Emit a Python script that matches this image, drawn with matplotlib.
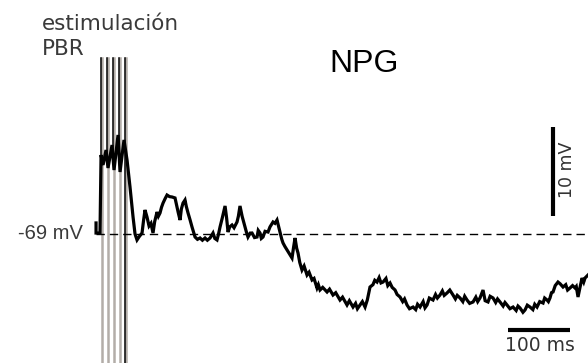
import matplotlib.pyplot as plt
import numpy as np

# membrane potential trace (ms, mV)
t_ms = [-1.6, -1.6, 4.8, 6.5, 9.7, 14.5, 17.7, 24.2, 27.4, 33.9, 37.1, 43.5, 48.4,
        53.2, 58.1,
        61.3, 64.5, 68, 72.6, 75, 77.4, 80.6, 83.9, 87, 90.3, 93, 96.8, 99, 101.6,
        104, 106.5, 110, 112.9, 117, 121.0, 125.8, 129.0, 131, 133.9, 136, 138.7,
        141.9, 144, 146.8, 150, 153.2, 158.1, 162, 166.1, 170, 174.2, 178, 182.3,
        187.1, 190, 193.5, 196, 198.4, 202, 206.5, 209, 211.3, 214, 217.7, 221,
        225.8, 228, 230.6, 234, 238.7, 241, 243.5, 247, 250.0, 254, 258.1, 260,
        262.9, 265, 267.7, 271, 275.8, 279, 283.9, 287, 290.3, 293, 295.2, 298,
        300.0, 303, 306.5, 310, 314.5, 317, 319.4, 322, 324.2, 327,
        330.6, 334, 338.7, 342, 346.8, 350, 354.8, 357, 359.7, 364, 371.0, 375,
        380.6, 385, 391.9, 396, 403.2, 407, 412.9, 417, 420, 424.2, 428, 432.3,
        436, 440.3, 445, 448, 451.6, 455, 458, 461.3, 466, 469, 472.6, 476, 480.6,
        484, 488.7, 493, 496, 500.0, 504, 509.7, 514, 517, 521.0, 526, 529, 532.3,
        536, 541.9, 546, 549, 553.2, 557, 560, 564.5, 569, 574.2, 578, 581, 585.5,
        590, 593, 596.8, 601, 606.5, 611, 614, 617.7, 622.6, 626, 630.6, 634,
        638.7, 643, 646, 650.0, 655, 658, 661.3, 666, 671.0, 676, 679, 682.3, 687,
        690.3, 694, 698.4, 703, 706, 709.7, 714, 719.4, 722, 725.8, 728, 730.6,
        733, 735.5, 739, 743.5, 747, 751.6, 756, 759, 762.9, 767, 771.0, 773,
        775.8, 779, 782.3, 785, 787.1, 791.9]
v_mV = [-67.76, -68.89, -68.89, -60.12, -61.24, -59.56, -61.58, -59.0, -61.81, -57.87,
        -62.03, -58.43, -60.68, -63.72, -67.09,
        -69.0, -69.67, -69.3, -68.89, -67.5, -66.30, -67.09, -68.10, -67.8, -68.89,
        -67.6, -66.53, -67.0, -66.64, -66.0, -65.52, -65.0, -64.62, -64.8, -64.84,
        -64.95, -65.97, -66.6, -67.43, -66.2, -65.52, -65.18, -65.9, -66.64, -67.4,
        -68.21, -69.34, -69.6, -69.45, -69.7, -69.45, -69.7, -69.45, -68.89, -69.5,
        -69.67, -69.0, -68.21, -67.2, -65.85, -67.2, -68.78, -68.2, -67.99, -68.3,
        -67.65, -67.0, -65.85, -67.0, -68.21, -68.8, -69.34, -68.9, -68.89, -69.4,
        -69.34, -68.6, -68.89, -69.5, -69.34, -68.7, -68.78, -68.2, -67.65, -67.8,
        -67.43, -68.2, -68.78, -69.6, -70.01, -70.4, -70.80, -71.2, -71.70, -70.5,
        -69.45, -70.6, -71.14, -72.2,
        -73.05, -72.6, -73.61, -73.3, -74.17, -74.0, -75.07, -74.7, -75.29, -75.0,
        -75.52, -75.2, -75.86, -75.6, -76.42, -76.1, -76.98, -76.5, -77.21, -76.8,
        -77.4, -76.98, -76.6, -77.21, -76.4, -74.96, -74.7, -74.2, -74.40, -73.9,
        -74.5, -74.40, -74.0, -74.8, -74.51, -75.0, -75.29, -75.8, -76.08, -76.6,
        -76.3, -76.98, -77.4, -77.21, -77.5, -76.9, -77.21, -76.6, -77.3, -76.98,
        -76.2, -76.42, -75.8, -76.2, -75.86, -75.4, -75.9, -75.63, -75.3, -75.86,
        -76.3, -75.9, -76.19, -76.6, -76.0, -76.42, -76.8, -76.64, -76.1, -76.6,
        -76.19, -75.3, -76.5, -76.64, -76.0, -76.19, -76.7, -76.3, -76.64, -77.1,
        -76.7, -76.98, -77.4, -77.21, -77.6, -77.1, -77.32, -77.8, -77.54, -77.0,
        -77.21, -77.5, -76.9, -77.21, -76.6, -76.76, -76.2, -76.42, -76.6, -76.19,
        -75.6, -75.52, -74.8, -74.40, -74.6, -74.96, -74.7, -75.3, -75.07, -74.8,
        -75.07, -74.9, -76.08, -75.0, -73.95, -74.4, -73.95, -73.61]

# PBR stimulation train (100 Hz)
stim_times = [6.5, 16.1, 25.8, 35.5, 45.2]
stim_top = -49.2
rest_mV = -69

# scale bars
bar_t0, bar_len_ms = 663, 100
bar_v0, bar_len_mV = -67.0, 10

fig = plt.figure(figsize=(5.88, 3.63), dpi=100)
ax = fig.add_axes([0, 0, 1, 1])
ax.set_xlim(-156.5, 791.9)
ax.set_ylim(-83.5, -42.7)
ax.axis('off')

# stimulus artifacts
for i, st in enumerate(stim_times):
    ax.plot([st + 1.5, st + 1.5], [-90, stim_top], color='#b3ada8', lw=1.8, zorder=1)
    bottom = -90 if i == len(stim_times) - 1 else -61
    ax.plot([st - 0.7, st - 0.7], [bottom, stim_top], color='black', lw=1.1, zorder=2)

ax.plot([-1.6, 791.9], [rest_mV, rest_mV], color='black', lw=1.0,
        linestyle=(0, (6, 3.6)), zorder=2)
ax.plot(t_ms, v_mV, color='black', lw=2.3, solid_joinstyle='miter', zorder=3)

# 10 mV / 100 ms bars
ax.plot([735.5, 735.5], [bar_v0, bar_v0 + bar_len_mV], color='black', lw=3, solid_capstyle='butt')
ax.plot([bar_t0, bar_t0 + bar_len_ms], [-79.8, -79.8], color='black', lw=3, solid_capstyle='butt')

ax.text(758, -61.8, '10 mV', rotation=90, ha='center', va='center', fontsize=12.5,
        color='#333333', family='DejaVu Sans')
ax.text(714, -81.5, '100 ms', ha='center', va='center', fontsize=13.5,
        color='#333333', family='DejaVu Sans')
ax.text(-22.6, rest_mV, '-69 mV', ha='right', va='center', fontsize=14.5,
        color='#3a3a3a', family='Liberation Sans')
ax.text(430.7, -49.9, 'NPG', ha='center', va='center', fontsize=23,
        color='black', family='Liberation Sans')
ax.text(-89, -46.07, 'estimulación', ha='left', va='baseline', fontsize=15.5,
        color='#3a3a3a', family='DejaVu Sans')
ax.text(-89, -48.88, 'PBR', ha='left', va='baseline', fontsize=15.5,
        color='#3a3a3a', family='DejaVu Sans')

fig.savefig('out.png', dpi=100)
